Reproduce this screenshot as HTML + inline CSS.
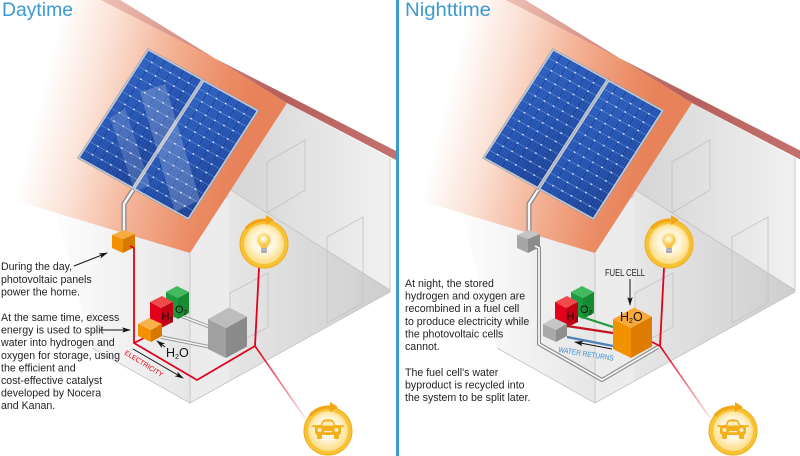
<!DOCTYPE html>
<html><head><meta charset="utf-8">
<style>
html,body{margin:0;padding:0;background:#fff;}
svg{display:block;}
text{font-family:"Liberation Sans",Arial,sans-serif;}
</style></head><body>
<svg width="800" height="456" viewBox="0 0 800 456" xmlns="http://www.w3.org/2000/svg" xmlns:xlink="http://www.w3.org/1999/xlink">
<defs>
 <linearGradient id="roofG" gradientUnits="userSpaceOnUse" x1="50" y1="60" x2="250" y2="110">
  <stop offset="0" stop-color="#ffffff"/>
  <stop offset="0.25" stop-color="#fbe2d6"/>
  <stop offset="0.55" stop-color="#f4b397"/>
  <stop offset="0.85" stop-color="#eb8d66"/>
  <stop offset="1" stop-color="#e8825a"/>
 </linearGradient>
 <linearGradient id="bandG" gradientUnits="userSpaceOnUse" x1="100" y1="0" x2="398" y2="155">
  <stop offset="0" stop-color="#eec0b4"/>
  <stop offset="0.35" stop-color="#cf8880"/>
  <stop offset="0.6" stop-color="#b65f5d"/>
  <stop offset="1" stop-color="#c4716d"/>
 </linearGradient>
 <linearGradient id="gbG" gradientUnits="userSpaceOnUse" x1="220" y1="0" x2="390" y2="0">
  <stop offset="0" stop-color="#d3d3d3"/>
  <stop offset="1" stop-color="#f1f1f1"/>
 </linearGradient>
 <linearGradient id="lwG" gradientUnits="userSpaceOnUse" x1="45" y1="0" x2="190" y2="0">
  <stop offset="0" stop-color="#ffffff"/>
  <stop offset="1" stop-color="#e6e6e6"/>
 </linearGradient>
 <linearGradient id="wdG" gradientUnits="userSpaceOnUse" x1="229" y1="0" x2="390" y2="0">
  <stop offset="0" stop-color="#e6e6e6"/>
  <stop offset="1" stop-color="#cecece"/>
 </linearGradient>
 <linearGradient id="fadeL" gradientUnits="userSpaceOnUse" x1="255" y1="346" x2="305" y2="418">
  <stop offset="0" stop-color="#e2001a" stop-opacity="1"/>
  <stop offset="1" stop-color="#e2001a" stop-opacity="0.1"/>
 </linearGradient>
 <linearGradient id="pvG" x1="0" y1="0" x2="1" y2="1">
  <stop offset="0" stop-color="#2d60c0"/>
  <stop offset="0.5" stop-color="#2452b0"/>
  <stop offset="1" stop-color="#1a3f93"/>
 </linearGradient>
 <radialGradient id="glowG" cx="0.5" cy="0.45" r="0.5">
  <stop offset="0" stop-color="#ffffff"/>
  <stop offset="0.6" stop-color="#fff6dc"/>
  <stop offset="1" stop-color="#fde39a"/>
 </radialGradient>
 <radialGradient id="bulbG" cx="0.45" cy="0.4" r="0.6">
  <stop offset="0" stop-color="#ffffff"/>
  <stop offset="0.5" stop-color="#fde08a"/>
  <stop offset="1" stop-color="#f5b62a"/>
 </radialGradient>
 <pattern id="stripes" patternUnits="userSpaceOnUse" width="2.5" height="10">
  <line x1="1.25" y1="0" x2="1.25" y2="10" stroke="#5b8ad8" stroke-width="0.4" opacity="0.55"/>
 </pattern>
 <pattern id="dots" patternUnits="userSpaceOnUse" width="10" height="10">
  <circle cx="0" cy="0" r="0.9" fill="#e8f0ff"/>
  <circle cx="10" cy="0" r="0.9" fill="#e8f0ff"/>
  <circle cx="0" cy="10" r="0.9" fill="#e8f0ff"/>
  <circle cx="10" cy="10" r="0.9" fill="#e8f0ff"/>
 </pattern>
 <marker id="arr" viewBox="0 0 10 6" refX="9" refY="3" markerWidth="9" markerHeight="5.5" orient="auto" markerUnits="userSpaceOnUse">
  <path d="M0,0 L10,3 L0,6 L2.5,3 z" fill="#111"/>
 </marker>
 <clipPath id="clipL"><rect x="0" y="0" width="396" height="456"/></clipPath>
 <clipPath id="clipR"><rect x="399" y="0" width="401" height="456"/></clipPath>
 <clipPath id="pvClip"><polygon points="148,49 258,110 188,220 78,158"/></clipPath>

 <g id="pv">
  <rect width="60" height="130" fill="url(#pvG)"/>
  <rect width="60" height="130" fill="url(#stripes)"/>
  <path d="M0,10H60M0,20H60M0,30H60M0,40H60M0,50H60M0,60H60M0,70H60M0,80H60M0,90H60M0,100H60M0,110H60M0,120H60" stroke="#7199dc" stroke-width="0.5"/>
  <path d="M10,0V130M20,0V130M30,0V130M40,0V130M50,0V130" stroke="#17398a" stroke-width="0.6"/>
  <rect width="60" height="130" fill="url(#dots)"/>
  <rect x="0.5" y="0.5" width="59" height="129" fill="none" stroke="#c3c9d2" stroke-width="1.8"/>
  <rect x="-0.4" y="-0.4" width="60.8" height="130.8" fill="none" stroke="#8995a6" stroke-width="0.5"/>
 </g>

 <g id="houseBase">
  <polygon points="190,253 190,403 92,348 50,190 120,232" fill="url(#lwG)"/>
  <polygon points="287,103 390,158 390,292 190,403 190,253" fill="url(#gbG)"/>
  <polygon points="190,219 229,197 229,381 190,403" fill="#ececec"/>
  <polygon points="229,189 390,290 390,292 229,381" fill="url(#wdG)"/>
  <g fill="none" stroke="#c2c2c2" stroke-width="0.8">
   <polygon points="267,162 305,140 305,190 267,213"/>
   <polygon points="327,237 363,217 363,303 327,323"/>
   <polygon points="230,293 268,273 268,327 230,347"/>
   <line x1="229" y1="189" x2="390" y2="290"/>
   <line x1="390" y1="158" x2="390" y2="292"/>
   <polyline points="92,348 190,403 390,292"/>
   <line x1="190" y1="253" x2="190" y2="403"/>
  </g>
  <polygon points="0,-2 117,-2 287,103 190,253 0,196" fill="url(#roofG)"/>
  <polygon points="97,-2 398,152 398,161 287,103 117,-2" fill="url(#bandG)"/>
  <use xlink:href="#pv" href="#pv" transform="matrix(0.9167,0.5083,-0.5385,0.8385,148,49)"/>
  <use xlink:href="#pv" href="#pv" transform="matrix(0.9167,0.5083,-0.5385,0.8385,203.5,80)"/>
  <path d="M133,190 L124,204 L124,233" fill="none" stroke="#8a8a8a" stroke-width="5"/>
  <path d="M133,190 L124,204 L124,233" fill="none" stroke="#f4f4f4" stroke-width="2.4"/>
 </g>

 <g id="ring">
  <circle r="24" fill="#f7c236"/>
  <circle r="24" fill="none" stroke="#f0ad1a" stroke-width="1"/>
  <circle r="20" fill="#fbe08a"/>
  <circle r="18.5" fill="url(#glowG)"/>
  <path d="M-18,-15.5 A24,24 0 0 1 3,-23.8" fill="none" stroke="#f2a516" stroke-width="3.2"/>
  <path d="M2,-29 L10,-24 L2,-19 Z" fill="#f2a516"/>
 </g>
 <g id="bulbIcon">
  <use xlink:href="#ring" href="#ring"/>
  <circle cx="0" cy="-4" r="8.5" fill="#fdf0c0" opacity="0.9"/>
  <circle cx="0" cy="-4" r="6.3" fill="url(#bulbG)"/>
  <path d="M-3.8,0 Q0,3 3.8,0 L3,4 L-3,4 Z" fill="#f7c24a"/>
  <rect x="-3" y="4" width="6" height="5" rx="1" fill="#a3a8b2"/>
  <line x1="-3" y1="6" x2="3" y2="6" stroke="#e0e0e0" stroke-width="0.6"/>
 </g>
 <g id="carIcon">
  <use xlink:href="#ring" href="#ring"/>
  <g fill="#f3b01c">
   <path d="M-8,-5 L-5,-11 Q0,-12.5 5,-11 L8,-5 Z"/>
   <rect x="-13" y="-6" width="26" height="10" rx="2.5"/>
   <rect x="-11" y="3" width="5" height="5" rx="1"/>
   <rect x="6" y="3" width="5" height="5" rx="1"/>
   <rect x="-15.5" y="-6" width="3" height="2"/>
   <rect x="12.5" y="-6" width="3" height="2"/>
  </g>
  <path d="M-6,-5.5 L-4,-9.5 L4,-9.5 L6,-5.5 Z" fill="#fdeec4"/>
  <circle cx="-8.5" cy="-1" r="2" fill="#fdeec4"/>
  <circle cx="8.5" cy="-1" r="2" fill="#fdeec4"/>
  <rect x="-4" y="0" width="8" height="1.2" fill="#fdeec4"/>
 </g>
</defs>

<rect width="800" height="456" fill="#ffffff"/>

<!-- ================= LEFT: DAYTIME ================= -->
<g clip-path="url(#clipL)">
 <use xlink:href="#houseBase" href="#houseBase"/>
 <!-- reflections -->
 <g clip-path="url(#pvClip)" fill="#ffffff">
  <polygon points="110,118 125,108 150,185 135,192" opacity="0.16"/>
  <polygon points="140,92 165,84 200,200 175,212" opacity="0.2"/>
 </g>
 <!-- inverter (orange) -->
 <polygon points="112,235 124,230 135,234 123,239" fill="#f7ad3e"/>
 <polygon points="112,235 123,239 123,253 112,248" fill="#f39200"/>
 <polygon points="123,239 135,234 135,247 123,253" fill="#d87a00"/>
 <!-- pipes -->
 <path d="M181,316 L210,327" stroke="#9a9a9a" stroke-width="3.6"/>
 <path d="M181,316 L210,327" stroke="#f4f4f4" stroke-width="1.5"/>
 <path d="M161,337 L210,347" stroke="#9a9a9a" stroke-width="3.6"/>
 <path d="M161,337 L210,347" stroke="#f4f4f4" stroke-width="1.5"/>
 <!-- red electricity -->
 <path d="M130,246 L134,248 L134,343 L197,380 L255,346 L259,268" fill="none" stroke="#e2001a" stroke-width="1.8"/>
 <path d="M134,343 L144,338" fill="none" stroke="#e2001a" stroke-width="1.8"/>
 <path d="M255,346 L305,418" fill="none" stroke="url(#fadeL)" stroke-width="1.6"/>
 <!-- green O2 -->
 <polygon points="166,292 177,286 189,292 178,298" fill="#45b862"/>
 <polygon points="166,292 178,298 178,319 166,313" fill="#1e9a3e"/>
 <polygon points="178,298 189,292 189,313 178,319" fill="#178a34"/>
 <!-- red H2 -->
 <polygon points="150,302 162,296 173,302 161,308" fill="#f24a4a"/>
 <polygon points="150,302 161,308 161,328 150,322" fill="#e3001b"/>
 <polygon points="161,308 173,302 173,322 161,328" fill="#c40014"/>
 <!-- orange small electrolyzer -->
 <polygon points="138,324 149,318 162,324 151,330" fill="#f8b24a"/>
 <polygon points="138,324 151,330 151,342 138,336" fill="#f39200"/>
 <polygon points="151,330 162,324 162,336 151,342" fill="#d67800"/>
 <!-- gray storage -->
 <polygon points="208,349 226,358 226,328 208,319" fill="#a0a0a0"/>
 <polygon points="226,358 247,346.5 247,316.5 226,328" fill="#8a8a8a"/>
 <polygon points="208,319 226,328 247,316.5 229,307.5" fill="#bdbdbd"/>
 <text x="161.5" y="320" font-size="11" fill="#111">H<tspan font-size="6.5" dy="1.5">2</tspan></text>
 <text x="175" y="313" font-size="11" fill="#111">O<tspan font-size="6.5" dy="1.5">2</tspan></text>
 <text x="166" y="357" font-size="12.5" fill="#111">H<tspan font-size="7" dy="2">2</tspan><tspan dy="-2">O</tspan></text>
 <path d="M165,347 L157,341" stroke="#111" stroke-width="1" marker-end="url(#arr)"/>
 <text transform="translate(124,354) rotate(32)" font-size="7" fill="#e2001a" textLength="44" lengthAdjust="spacingAndGlyphs">ELECTRICITY</text>
 <path d="M133,349 L183,378" stroke="#111" stroke-width="1" marker-end="url(#arr)"/>
 <use xlink:href="#bulbIcon" href="#bulbIcon" transform="translate(264,244)"/>
 <use xlink:href="#carIcon" href="#carIcon" transform="translate(328,431)"/>
</g>

<!-- ================= RIGHT: NIGHTTIME ================= -->
<g clip-path="url(#clipR)">
 <g transform="translate(405,0)">
  <use xlink:href="#houseBase" href="#houseBase"/>
  <!-- inverter (gray) -->
  <polygon points="112,235 124,230 135,234 123,239" fill="#c4c4c4"/>
  <polygon points="112,235 123,239 123,253 112,248" fill="#a6a6a6"/>
  <polygon points="123,239 135,234 135,247 123,253" fill="#8c8c8c"/>
  <!-- gray cable path -->
  <path d="M130,246 L134,248 L134,344 L197,380 L253,347" fill="none" stroke="#8a8a8a" stroke-width="4"/>
  <path d="M130,246 L134,248 L134,344 L197,380 L253,347" fill="none" stroke="#f6f6f6" stroke-width="1.8"/>
  <!-- red -->
  <path d="M243,340 L255,346 L259,268" fill="none" stroke="#e2001a" stroke-width="1.8"/>
  <path d="M255,346 L305,418" fill="none" stroke="url(#fadeL)" stroke-width="1.6"/>
  <!-- green O2 -->
  <polygon points="166,292 177,286 189,292 178,298" fill="#45b862"/>
  <polygon points="166,292 178,298 178,319 166,313" fill="#1e9a3e"/>
  <polygon points="178,298 189,292 189,313 178,319" fill="#178a34"/>
  <!-- red H2 -->
  <polygon points="150,302 162,296 173,302 161,308" fill="#f24a4a"/>
  <polygon points="150,302 161,308 161,328 150,322" fill="#e3001b"/>
  <polygon points="161,308 173,302 173,322 161,328" fill="#c40014"/>
  <!-- gray small box -->
  <polygon points="138,324 149,318 162,324 151,330" fill="#c6c6c6"/>
  <polygon points="138,324 151,330 151,342 138,336" fill="#a8a8a8"/>
  <polygon points="151,330 162,324 162,336 151,342" fill="#8e8e8e"/>
  <!-- lines to fuel cell -->
  <path d="M177,317 L208,327" stroke="#1d9a3d" stroke-width="2.2"/>
  <path d="M162,326 L208,333" stroke="#c5141c" stroke-width="2.2"/>
  <path d="M162,337 L208,346" stroke="#4d7fba" stroke-width="2.2"/>
  <!-- fuel cell -->
  <polygon points="208,349 226,358 226,328 208,319" fill="#f39200"/>
  <polygon points="226,358 247,346.5 247,316.5 226,328" fill="#dd7c00"/>
  <polygon points="208,319 226,328 247,316.5 229,307.5" fill="#f7aa3a"/>
  <text x="161.5" y="320" font-size="11" fill="#111">H<tspan font-size="6.5" dy="1.5">2</tspan></text>
  <text x="175" y="313" font-size="11" fill="#111">O<tspan font-size="6.5" dy="1.5">2</tspan></text>
  <text x="215" y="321" font-size="12.5" fill="#111">H<tspan font-size="7" dy="2">2</tspan><tspan dy="-2">O</tspan></text>
  <text x="200" y="276" font-size="10" fill="#222" textLength="40" lengthAdjust="spacingAndGlyphs">FUEL CELL</text>
  <path d="M225,279 L225,305" stroke="#111" stroke-width="1" marker-end="url(#arr)"/>
  <path d="M207,349 L170,342" stroke="#111" stroke-width="1" marker-end="url(#arr)"/>
  <text transform="translate(153,352) rotate(9)" font-size="7.5" fill="#3b8fd6" textLength="56" lengthAdjust="spacingAndGlyphs">WATER RETURNS</text>
  <use xlink:href="#bulbIcon" href="#bulbIcon" transform="translate(264,244)"/>
  <use xlink:href="#carIcon" href="#carIcon" transform="translate(328,431)"/>
 </g>
</g>

<!-- divider -->
<rect x="396" y="0" width="3" height="456" fill="#3b9ad4"/>

<!-- titles -->
<text x="2" y="16" font-size="19.5" fill="#3b9ad4" textLength="71" lengthAdjust="spacingAndGlyphs">Daytime</text>
<text x="405" y="16" font-size="19.5" fill="#3b9ad4" textLength="86" lengthAdjust="spacingAndGlyphs">Nighttime</text>

<!-- left text -->
<g font-size="10.6" fill="#231f20">
 <text x="1" y="270">During the day,</text>
 <text x="1" y="283">photovoltaic panels</text>
 <text x="1" y="295.5">power the home.</text>
 <text x="1" y="321">At the same time, excess</text>
 <text x="1" y="333.6">energy is used to split</text>
 <text x="1" y="346.2">water into hydrogen and</text>
 <text x="1" y="358.8">oxygen for storage, using</text>
 <text x="1" y="371.4">the efficient and</text>
 <text x="1" y="384">cost-effective catalyst</text>
 <text x="1" y="396.6">developed by Nocera</text>
 <text x="1" y="409.2">and Kanan.</text>
</g>
<path d="M74,266 L107,253" stroke="#111" stroke-width="1" marker-end="url(#arr)"/>
<path d="M100,330 L130,330" stroke="#111" stroke-width="1" marker-end="url(#arr)"/>

<!-- right text -->
<g font-size="10.6" fill="#231f20">
 <text x="405" y="287">At night, the stored</text>
 <text x="405" y="299.6">hydrogen and oxygen are</text>
 <text x="405" y="312.2">recombined in a fuel cell</text>
 <text x="405" y="324.8">to produce electricity while</text>
 <text x="405" y="337.4">the photovoltaic cells</text>
 <text x="405" y="350">cannot.</text>
 <text x="405" y="375.8">The fuel cell's water</text>
 <text x="405" y="388.5">byproduct is recycled into</text>
 <text x="405" y="401.2">the system to be split later.</text>
</g>
</svg>
</body></html>
